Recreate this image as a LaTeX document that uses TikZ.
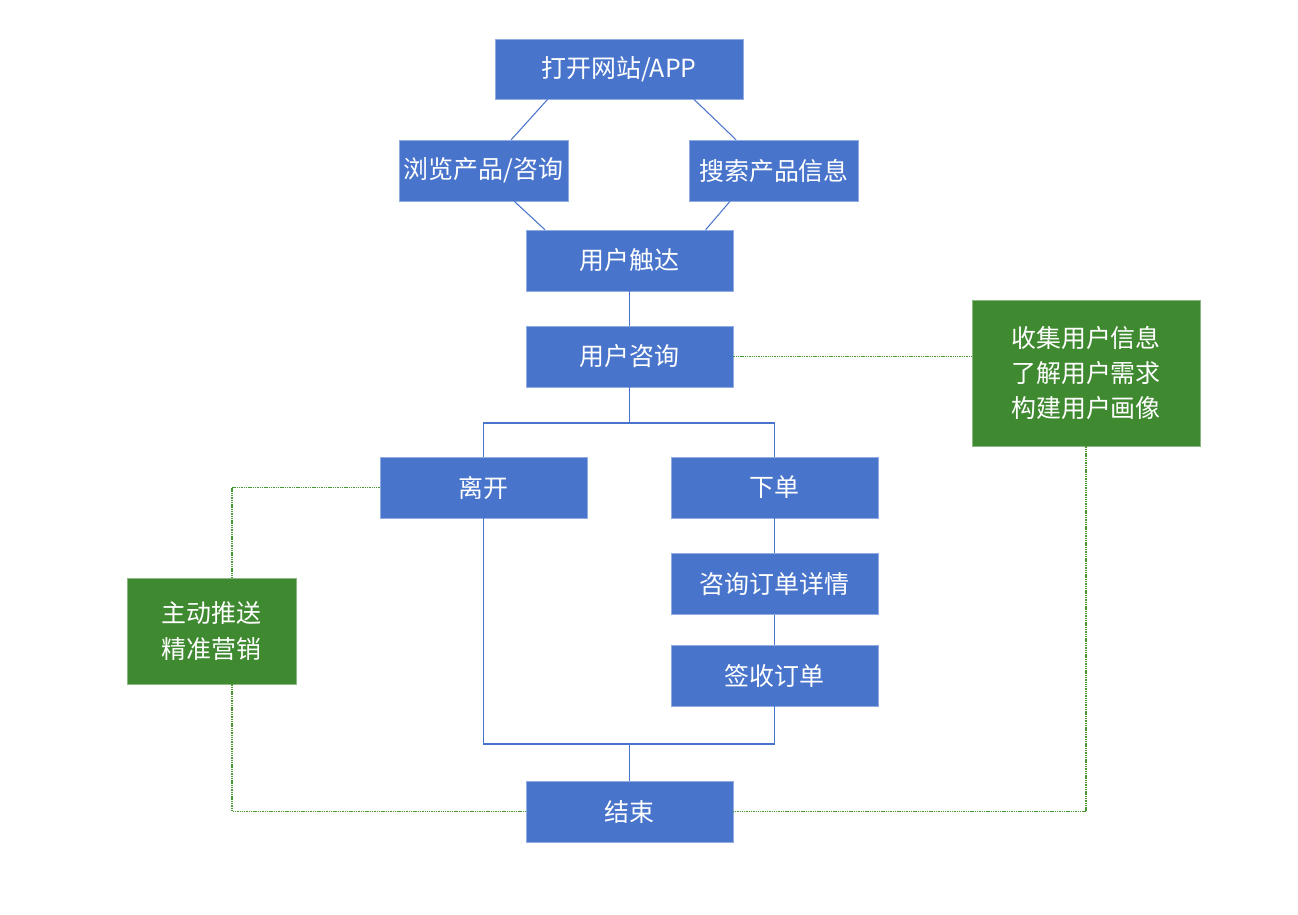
\documentclass[tikz,border=0pt]{standalone}
\usepackage{fontspec}
\usepackage{tikz}
\newfontfamily\cjk{Noto Sans CJK SC}
\definecolor{stepblue}{RGB}{72,116,203}
\definecolor{notegreen}{RGB}{63,137,48}
\definecolor{linegreen}{RGB}{70,150,50}

\begin{document}
\begin{tikzpicture}[x=0.02cm, y=-0.02cm,
    stepbox/.style={fill=stepblue, draw=stepblue!60!white, line width=0.3pt,
        text=white, minimum width=4.14cm, minimum height=1.22cm, inner sep=0pt,
        font=\cjk\fontsize{14.2}{20}\selectfont},
    notebox/.style={fill=notegreen, draw=notegreen!60!white, line width=0.3pt,
        text=white, align=center, inner sep=0pt,
        font=\cjk\fontsize{14.2}{20}\selectfont},
    link/.style={draw=stepblue, line width=0.6pt},
    note/.style={draw=linegreen, line width=0.7pt, dash pattern=on 0.8pt off 0.5pt}]
    \useasboundingbox (0,0) rectangle (1298,914);

    % Entry
    \node[stepbox, minimum width=4.96cm, minimum height=1.2cm] (open) at (619,69) {打开网站/APP};
    \node[stepbox, minimum width=3.38cm] (browse) at (483.5,170.5) {浏览产品/咨询};
    \node[stepbox, minimum width=3.38cm] (search) at (774,170.5) {搜索产品信息};
    \node[stepbox] (reach) at (629.5,260.5) {用户触达};
    \node[stepbox] (consult) at (629.5,356.5) {用户咨询};

    % Branches
    \node[stepbox] (leave) at (483.5,487.5) {离开};
    \node[stepbox] (order) at (774.5,487.5) {下单};
    \node[stepbox] (detail) at (774.5,584) {咨询订单详情};
    \node[stepbox] (sign) at (774.5,675.5) {签收订单};
    \node[stepbox] (finish) at (629.5,811.5) {结束};

    % Notes
    \node[notebox, minimum width=4.56cm, minimum height=2.92cm] (collect) at (1086,373)
        {收集用户信息\\了解用户需求\\构建用户画像};
    \node[notebox, minimum width=3.38cm, minimum height=2.12cm] (push) at (211.5,631)
        {主动推送\\精准营销};

    \coordinate (split) at (629.5,423);
    \coordinate (join) at (629.5,744);

    % Connectors
    \draw[link] (open.203.8) -- (browse.48);
    \draw[link] (open.338.7) -- (search.141.3);
    \draw[link] (browse.315) -- (reach.160.6);
    \draw[link] (search.215.3) -- (reach.22.8);
    \draw[link] (reach) -- (consult);
    \draw[link] (consult) -- (split);
    \draw[link] (split) -| (leave);
    \draw[link] (split) -| (order);
    \draw[link] (order) -- (detail);
    \draw[link] (detail) -- (sign);
    \draw[link] (leave) |- (join) -| (sign);
    \draw[link] (join) -- (finish);

    % Dotted notes
    \draw[note] (consult.east) -- (consult.east -| collect.west);
    \draw[note] (collect) |- (finish);
    \draw[note] (leave) -| ([xshift=0.41cm]push.north);
    \draw[note] ([xshift=0.41cm]push.south) |- (finish);
\end{tikzpicture}
\end{document}
